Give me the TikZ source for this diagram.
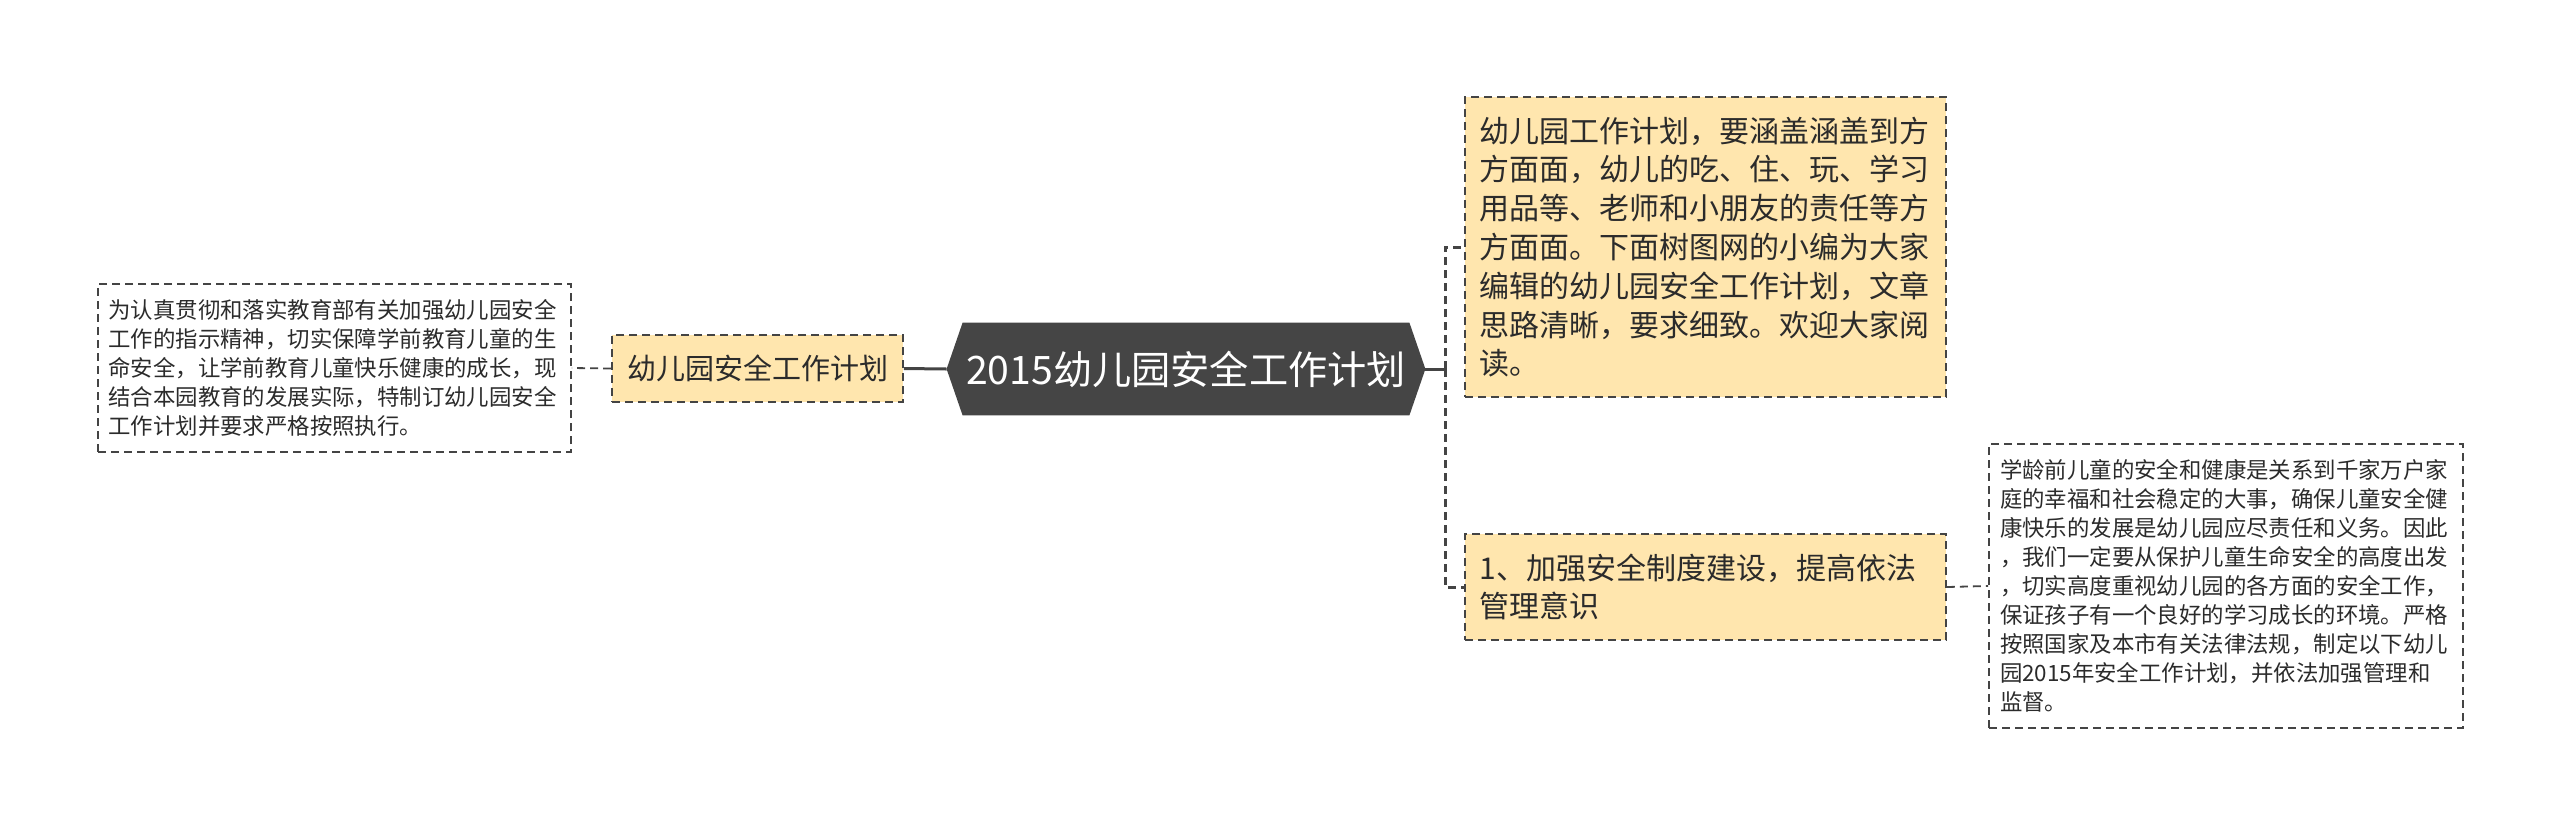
\documentclass[tikz,border=0pt]{standalone}
\usepackage{fontspec}
\setmainfont{Noto Sans CJK SC}
\usetikzlibrary{backgrounds}
\definecolor{boxfill}{HTML}{FFE6AE}
\definecolor{edgecol}{HTML}{444444}
\definecolor{rootfill}{HTML}{454545}
\definecolor{txt}{HTML}{2B2B2B}
\begin{document}
\begin{tikzpicture}[x=0.5pt,y=-0.5pt,
  every node/.style={inner ysep=0pt},
  notebox/.style={draw=edgecol, line width=0.9pt, dash pattern=on 4pt off 2.5pt,
    text=txt, align=left, font=\fontsize{11.2pt}{14.5pt}\selectfont},
  topicbox/.style={draw=edgecol, fill=boxfill, line width=0.9pt, dash pattern=on 4pt off 2.5pt,
    text=txt, align=left, font=\fontsize{15pt}{19.4pt}\selectfont},
  rootnode/.style={text=white, font=\fontsize{19.6pt}{23pt}\selectfont, minimum width=239pt, minimum height=46pt, inner xsep=0pt},
  solidconn/.style={draw=edgecol, line width=1.5pt},
  spineconn/.style={draw=edgecol, line width=1.5pt, dash pattern=on 4pt off 2.5pt},
  thinconn/.style={draw=edgecol, line width=0.9pt, dash pattern=on 4pt off 2.5pt}]
\useasboundingbox (0,0) rectangle (2560,826);

% root
\node[rootnode] (root) at (1186,369) {2015幼儿园安全工作计划};
\begin{scope}[on background layer]
\fill[rootfill] (root.west) -- ([xshift=8pt]root.north west) -- ([xshift=-8pt]root.north east)
  -- (root.east) -- ([xshift=-8pt]root.south east) -- ([xshift=8pt]root.south west) -- cycle;
\end{scope}

% left side
\node[topicbox, font=\fontsize{14.5pt}{18pt}\selectfont, minimum width=145.5pt, minimum height=33.5pt, align=center, inner xsep=0pt]
  (mid) at (757.5,368.5) {幼儿园安全工作计划};
\node[notebox, text width=226pt, inner xsep=5.25pt, minimum height=84pt] (leftnote) at (334.5,368)
  {为认真贯彻和落实教育部有关加强幼儿园安全\\工作的指示精神，切实保障学前教育儿童的生\\命安全，让学前教育儿童快乐健康的成长，现\\结合本园教育的发展实际，特制订幼儿园安全\\工作计划并要求严格按照执行。};

% right side
\node[topicbox, text width=226pt, inner xsep=7.25pt, minimum height=150pt] (intro) at (1705.5,247)
  {幼儿园工作计划，要涵盖涵盖到方\\方面面，幼儿的吃、住、玩、学习\\用品等、老师和小朋友的责任等方\\方面面。下面树图网的小编为大家\\编辑的幼儿园安全工作计划，文章\\思路清晰，要求细致。欢迎大家阅\\读。};
\node[topicbox, text width=226pt, inner xsep=7.25pt, minimum height=53pt] (item) at (1705.5,587)
  {1、加强安全制度建设，提高依法\\管理意识};
\node[notebox, text width=226pt, inner xsep=5.5pt, minimum height=142pt] (rightnote) at (2226,586)
  {学龄前儿童的安全和健康是关系到千家万户家\\庭的幸福和社会稳定的大事，确保儿童安全健\\康快乐的发展是幼儿园应尽责任和义务。因此\\，我们一定要从保护儿童生命安全的高度出发\\，切实高度重视幼儿园的各方面的安全工作，\\保证孩子有一个良好的学习成长的环境。严格\\按照国家及本市有关法律法规，制定以下幼儿\\园2015年安全工作计划，并依法加强管理和\\监督。};

\coordinate (spine) at (1445,369);

% connectors
\draw[solidconn] (root.west) -- (mid.east);
\draw[thinconn] (mid.west) -- (leftnote.east);
\draw[solidconn] (root.east) -- (spine);
\draw[spineconn] (spine) |- (intro.west);
\draw[spineconn] (spine) |- (item.west);
\draw[thinconn] (item.east) -- (rightnote.west);
\end{tikzpicture}
\end{document}
